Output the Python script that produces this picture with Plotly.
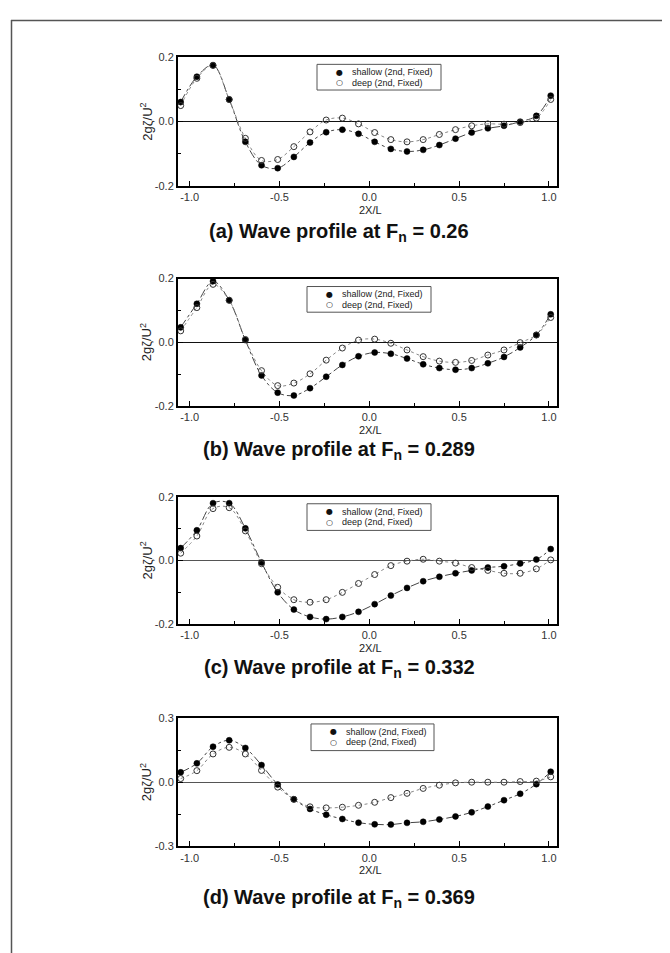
import plotly.graph_objects as go

X = [-1.05, -0.96, -0.87, -0.78, -0.69, -0.60, -0.51, -0.42, -0.33, -0.24, -0.15, -0.06,
     0.03, 0.12, 0.21, 0.30, 0.39, 0.48, 0.57, 0.66, 0.75, 0.84, 0.93, 1.01]

shallow_a = [0.061, 0.140, 0.176, 0.069, -0.063, -0.136, -0.145, -0.110, -0.065, -0.033, -0.025, -0.038,
             -0.063, -0.085, -0.093, -0.088, -0.073, -0.053, -0.034, -0.021, -0.013, 0.000, 0.018, 0.081]
deep_a = [0.050, 0.135, 0.175, 0.069, -0.052, -0.121, -0.118, -0.078, -0.032, 0.005, 0.011, -0.007,
          -0.034, -0.056, -0.063, -0.056, -0.040, -0.025, -0.013, -0.007, -0.008, -0.003, 0.011, 0.069]

shallow_b = [0.047, 0.121, 0.192, 0.132, 0.007, -0.104, -0.158, -0.167, -0.144, -0.108, -0.071, -0.044,
             -0.032, -0.036, -0.051, -0.069, -0.081, -0.086, -0.081, -0.066, -0.046, -0.016, 0.023, 0.088]
deep_b = [0.036, 0.109, 0.182, 0.132, 0.009, -0.089, -0.136, -0.128, -0.099, -0.056, -0.018, 0.007,
          0.010, -0.003, -0.024, -0.045, -0.059, -0.063, -0.057, -0.040, -0.024, -0.001, 0.023, 0.078]

shallow_c = [0.039, 0.095, 0.180, 0.180, 0.101, -0.006, -0.100, -0.154, -0.177, -0.184, -0.177, -0.161,
             -0.137, -0.110, -0.086, -0.065, -0.051, -0.040, -0.031, -0.022, -0.018, -0.009, 0.003, 0.036]
deep_c = [0.023, 0.077, 0.163, 0.166, 0.093, -0.010, -0.084, -0.123, -0.131, -0.123, -0.100, -0.072,
          -0.044, -0.016, -0.002, 0.004, -0.002, -0.008, -0.022, -0.031, -0.040, -0.040, -0.026, 0.002]

shallow_d = [0.046, 0.088, 0.166, 0.196, 0.160, 0.080, -0.011, -0.080, -0.125, -0.152, -0.172, -0.189,
             -0.197, -0.198, -0.190, -0.185, -0.174, -0.160, -0.141, -0.114, -0.084, -0.054, -0.009, 0.049]
deep_d = [0.017, 0.054, 0.132, 0.163, 0.132, 0.055, -0.023, -0.080, -0.115, -0.120, -0.117, -0.108,
          -0.094, -0.072, -0.052, -0.029, -0.014, -0.003, 0.000, 0.000, 0.000, 0.003, 0.005, 0.025]

froude = ["0.26", "0.289", "0.332", "0.369"]
panel_tags = ["(a)", "(b)", "(c)", "(d)"]
y_limits = [0.2, 0.2, 0.2, 0.3]
x_ticks = [-1.0, -0.5, 0.0, 0.5, 1.0]
legend_names = ["shallow (2nd, Fixed)", "deep (2nd, Fixed)"]

panels = [(shallow_a, deep_a), (shallow_b, deep_b), (shallow_c, deep_c), (shallow_d, deep_d)]

W, H = 670, 953
FONT = "Arial, Liberation Sans, sans-serif"

# pixel layout (top, bottom) of each plot frame
frames = [(44, 174), (268, 397), (489, 618), (713, 843)]
legend_boxes = [(309, 51, 433, 77), (299, 276, 423, 302), (299, 496, 423, 523), (303, 719, 426, 746)]
caption_y = [221, 442, 663, 896]
zero_colors = ["#111111", "#111111", "#555555", "#555555"]
x_left, x_right = 170, 549

def px(x):
    return x / W

def py(y):
    return 1 - y / H

fig = go.Figure()
annotations = []
shapes = []
layout_axes = {}

for i, ((sh, dp), (top, bot)) in enumerate(zip(panels, frames)):
    n = "" if i == 0 else str(i + 1)
    xa, ya = "x" + n, "y" + n
    fig.add_trace(go.Scatter(x=X, y=sh, mode="lines", xaxis=xa, yaxis=ya, showlegend=False,
                             line=dict(color="#444444", width=1, dash="dashdot", shape="spline"),
                             hoverinfo="skip"))
    fig.add_trace(go.Scatter(x=X, y=dp, mode="lines", xaxis=xa, yaxis=ya, showlegend=False,
                             line=dict(color="#888888", width=1, dash="dot", shape="spline"),
                             hoverinfo="skip"))
    fig.add_trace(go.Scatter(x=X, y=sh, mode="markers", xaxis=xa, yaxis=ya, showlegend=False,
                             name=legend_names[0],
                             marker=dict(symbol="circle", size=6, color="black",
                                         line=dict(color="black", width=0.5))))
    fig.add_trace(go.Scatter(x=X, y=dp, mode="markers", xaxis=xa, yaxis=ya, showlegend=False,
                             name=legend_names[1],
                             marker=dict(symbol="circle-open", size=6, color="#333333",
                                         line=dict(color="#333333", width=1))))
    lim = y_limits[i]
    layout_axes["xaxis" + n] = dict(
        domain=[px(x_left), px(x_right)], anchor=ya, range=[-1.065, 1.045],
        tickvals=x_ticks, ticktext=["%.1f" % v for v in x_ticks],
        ticks="inside", ticklen=5, tickwidth=1, tickcolor="black",
        minor=dict(ticks="inside", tickvals=[-0.75, -0.25, 0.25, 0.75], ticklen=3, tickcolor="black"),
        showline=True, linewidth=2, linecolor="black", mirror=True,
        showgrid=False, zeroline=False,
        tickfont=dict(family=FONT, size=11, color="#333333"),
    )
    layout_axes["yaxis" + n] = dict(
        domain=[py(bot), py(top)], anchor=xa, range=[-lim, lim],
        tickvals=[-lim, 0, lim], ticktext=["%.1f" % v for v in [-lim, 0, lim]],
        ticks="inside", ticklen=5, tickwidth=1, tickcolor="black",
        minor=dict(ticks="inside", tickvals=[-lim / 2, lim / 2], ticklen=3, tickcolor="black"),
        showline=True, linewidth=2, linecolor="black", mirror=True,
        showgrid=False, zeroline=True, zerolinecolor=zero_colors[i], zerolinewidth=1,
        tickfont=dict(family=FONT, size=11, color="#333333"),
    )
    # legend box (drawn manually for compact size)
    L, T, R, B = legend_boxes[i]
    shapes.append(dict(type="rect", xref="paper", yref="paper", x0=px(L), x1=px(R),
                       y0=py(B), y1=py(T), line=dict(color="#555555", width=1),
                       fillcolor="white", layer="above"))
    rows = [T + 8, T + 18.5]
    glyphs = ["●", "○"]
    for r, (gy, g, name) in enumerate(zip(rows, glyphs, legend_names)):
        annotations.append(dict(text=g, xref="paper", yref="paper", x=px(L + 22), y=py(gy),
                                showarrow=False, xanchor="center", yanchor="middle",
                                font=dict(family="DejaVu Sans", size=8, color="#111111")))
        annotations.append(dict(text=name, xref="paper", yref="paper", x=px(L + 33), y=py(gy),
                                showarrow=False, xanchor="left", yanchor="middle",
                                font=dict(family=FONT, size=9, color="#222222")))
    # y title
    annotations.append(dict(text="2gζ/U<sup>2</sup>", xref="paper", yref="paper",
                            x=px(138), y=py((top + bot) / 2), textangle=-90,
                            showarrow=False, xanchor="center", yanchor="middle",
                            font=dict(family=FONT, size=13, color="#222222")))
    # x title
    annotations.append(dict(text="2X/L", xref="paper", yref="paper",
                            x=px(362), y=py(bot + 24), showarrow=False,
                            xanchor="center", yanchor="middle",
                            font=dict(family=FONT, size=11, color="#222222")))
    # caption
    annotations.append(dict(text="<b>%s Wave profile at F<sub>n</sub> = %s</b>" % (panel_tags[i], froude[i]),
                            xref="paper", yref="paper", x=px(331), y=py(caption_y[i]), showarrow=False,
                            xanchor="center", yanchor="middle",
                            font=dict(family=FONT, size=20, color="#111111")))

shapes += [
    dict(type="line", xref="paper", yref="paper", x0=px(3), x1=1, y0=py(6.5), y1=py(6.5),
         line=dict(color="#555555", width=1.5)),
    dict(type="line", xref="paper", yref="paper", x0=px(3.5), x1=px(3.5), y0=0, y1=py(6),
         line=dict(color="#555555", width=1.5)),
]

fig.update_layout(
    width=W, height=H, margin=dict(l=0, r=0, t=0, b=0),
    paper_bgcolor="white", plot_bgcolor="white",
    showlegend=False,
    annotations=annotations,
    shapes=shapes,
    **layout_axes,
)

fig.write_html("out.html")
